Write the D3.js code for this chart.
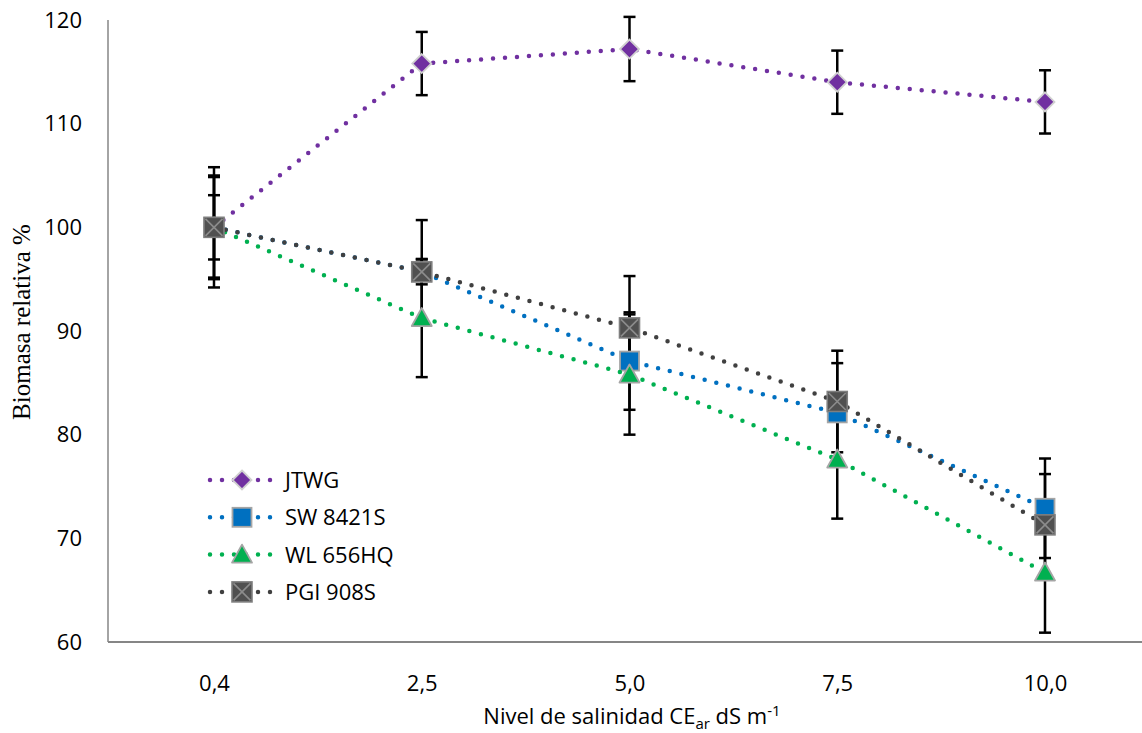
<!DOCTYPE html>
<html><head><meta charset="utf-8">
<script src="https://cdn.jsdelivr.net/npm/d3@7"></script>
<style>body{margin:0;background:#fff}svg{display:block}</style>
</head><body>
<svg id="c" width="1142" height="733"></svg>
<script>
const categories = ["0,4","2,5","5,0","7,5","10,0"];
const seriesNames = ["JTWG","SW 8421S","WL 656HQ","PGI 908S"];
const jtwg = [100, 115.8, 117.2, 114.0, 112.1];
const sw8421s = [100, 95.7, 87.1, 82.1, 72.9];
const wl656hq = [100, 91.25, 85.8, 77.6, 66.7];
const pgi908s = [100, 95.7, 90.3, 83.2, 71.3];
const jtwgErr = [3.1, 3.05, 3.1, 3.05, 3.05];
const swErr = [4.85, 1.2, 4.7, 4.8, 4.8];
const wlErr = [5.8, 5.7, 5.8, 5.7, 5.8];
const pgiErr = [5.0, 5.0, 5.0, 4.9, 4.9];
const yTicks = [60,70,80,90,100,110,120];

(function(){
const series = [
  {name: seriesNames[0], values: jtwg, err: jtwgErr, color: "#7030A0", marker: "diamond"},
  {name: seriesNames[1], values: sw8421s, err: swErr, color: "#0070C0", marker: "square"},
  {name: seriesNames[2], values: wl656hq, err: wlErr, color: "#00B050", marker: "triangle"},
  {name: seriesNames[3], values: pgi908s, err: pgiErr, color: "#404040", marker: "xsquare"}
];

const svg = d3.select("#c");
const pLeft = 108, pRight = 1142, pTop = 20, pBottom = 642;
const x = d3.scalePoint().domain(categories).range([214, 1045]);
const y = d3.scaleLinear().domain([60,120]).range([pBottom, pTop]);

const font = "'Open Sans', 'Noto Sans', sans-serif";

svg.append("line").attr("x1",pLeft).attr("x2",pLeft).attr("y1",pTop).attr("y2",pBottom)
  .attr("stroke","#868686").attr("stroke-width",1.5);
svg.append("line").attr("x1",pLeft).attr("x2",pRight).attr("y1",pBottom).attr("y2",pBottom)
  .attr("stroke","#868686").attr("stroke-width",2);

const yAxis = d3.axisLeft(y).tickValues(yTicks).tickSize(0).tickPadding(0);
svg.append("g").attr("transform",`translate(${82},0)`).call(yAxis)
  .call(g=>g.select(".domain").remove())
  .selectAll("text").attr("font-family",font).attr("font-size",22).attr("fill","#000");

const xAxis = d3.axisBottom(x).tickSize(0).tickPadding(0);
svg.append("g").attr("transform",`translate(0,${675})`).call(xAxis)
  .call(g=>g.select(".domain").remove())
  .selectAll("text").attr("font-family",font).attr("font-size",22).attr("fill","#000");

svg.append("text").attr("transform",`translate(30,322) rotate(-90)`).attr("text-anchor","middle")
  .attr("font-family","'Liberation Serif','Times New Roman',serif").attr("font-size",25).attr("fill","#000")
  .text("Biomasa relativa %");
const xt = svg.append("text").attr("x",632).attr("y",724).attr("text-anchor","middle")
  .attr("font-family",font).attr("font-size",22).attr("fill","#000");
xt.append("tspan").text("Nivel de salinidad CE");
xt.append("tspan").attr("font-size",15).attr("dy",5).text("ar");
xt.append("tspan").attr("dy",-5).text(" dS m");
xt.append("tspan").attr("font-size",15).attr("dy",-8).text("-1");

const cap = 6;
series.forEach(s=>{
  const g = svg.append("g").attr("stroke","#000").attr("stroke-width",2.5);
  s.values.forEach((v,i)=>{
    const cx = x(categories[i]);
    const y1 = y(v + s.err[i]), y2 = y(v - s.err[i]);
    g.append("line").attr("x1",cx).attr("x2",cx).attr("y1",y1).attr("y2",y2);
    g.append("line").attr("x1",cx-cap).attr("x2",cx+cap).attr("y1",y1).attr("y2",y1);
    g.append("line").attr("x1",cx-cap).attr("x2",cx+cap).attr("y1",y2).attr("y2",y2);
  });
});

function drawMarker(g, type, cx, cy, color) {
  if (type==="diamond") {
    const r = 9.5;
    g.append("path").attr("d",`M${cx},${cy-r}L${cx+r},${cy}L${cx},${cy+r}L${cx-r},${cy}Z`)
      .attr("fill",color).attr("stroke","#D0D0D0").attr("stroke-width",1.8);
  } else if (type==="square") {
    const h = 9.5;
    g.append("rect").attr("x",cx-h).attr("y",cy-h).attr("width",2*h).attr("height",2*h)
      .attr("fill",color).attr("stroke","#A5A5A5").attr("stroke-width",1.8);
  } else if (type==="triangle") {
    const w = 10, h1 = 10, h2 = 8;
    g.append("path").attr("d",`M${cx},${cy-h1}L${cx+w},${cy+h2}L${cx-w},${cy+h2}Z`)
      .attr("fill",color).attr("stroke","#A5A5A5").attr("stroke-width",1.8).attr("stroke-linejoin","round");
  } else {
    const h = 10;
    g.append("rect").attr("x",cx-h).attr("y",cy-h).attr("width",2*h).attr("height",2*h)
      .attr("fill","#505050").attr("stroke","#7F7F7F").attr("stroke-width",1.6);
    g.append("path").attr("d",`M${cx-h+1.5},${cy-h+1.5}L${cx+h-1.5},${cy+h-1.5}M${cx+h-1.5},${cy-h+1.5}L${cx-h+1.5},${cy+h-1.5}`)
      .attr("stroke","#8C8C8C").attr("stroke-width",1.6);
  }
}

const line = d3.line().x((d,i)=>x(categories[i])).y(d=>y(d));
series.forEach(s=>{
  svg.append("path").datum(s.values).attr("d",line).attr("fill","none")
    .attr("stroke",s.color).attr("stroke-width",4.5).attr("stroke-linecap","round")
    .attr("stroke-dasharray","0 12");
  const g = svg.append("g");
  s.values.forEach((v,i)=>drawMarker(g, s.marker, x(categories[i]), y(v), s.color));
});

const lg = svg.append("g");
series.forEach((s,i)=>{
  const ly = 480 + i*37.3;
  lg.append("line").attr("x1",210).attr("x2",272).attr("y1",ly).attr("y2",ly)
    .attr("stroke",s.color).attr("stroke-width",4.5).attr("stroke-linecap","round").attr("stroke-dasharray","0 12");
  drawMarker(lg, s.marker, 242, ly, s.color);
  lg.append("text").attr("x",285).attr("y",ly).attr("dy","0.36em")
    .attr("font-family",font).attr("font-size",22).attr("fill","#000").text(s.name);
});
})();
</script>
</body></html>
